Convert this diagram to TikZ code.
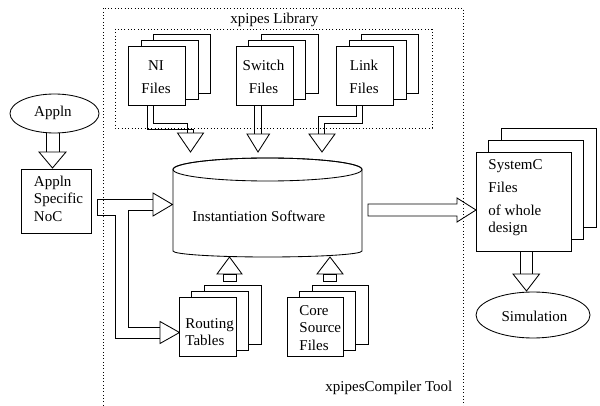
\documentclass[tikz,border=0pt]{standalone}
\usepackage{fontspec}
\setmainfont{Liberation Serif}
\usetikzlibrary{shapes.geometric}
\begin{document}
\begin{tikzpicture}[x=1pt,y=-1pt,line width=0.85pt,line join=miter,
  txt/.style={inner sep=0pt,font=\fontsize{15}{17}\selectfont},
  fbox/.style={draw,fill=white,inner sep=0pt,minimum width=57pt,minimum height=58.5pt},
  bigbox/.style={fbox,minimum width=95pt,minimum height=99pt},
  dots/.style={line width=0.9pt,dash pattern=on 0.9pt off 2.4pt},
  blk/.style={draw},
  shp/.style={draw,fill=white}]
\clip (0,0) rectangle (600,406);

% ---- dotted frames: compiler tool and library
\draw[dots] (103,412) -- (103,8) -- (463,8) -- (463,412);
\draw[dots] (115,29) rectangle (432,128);
\node[txt,anchor=base west] (libT) at (230,23.5) {xpipes Library};
\node[txt,anchor=base west] (toolT) at (325,391) {xpipesCompiler Tool};

% ---- block arrows
% Appln -> Appln Specific NoC
\draw[blk] (46,125) -- (46,152) (59,125) -- (59,152);
\draw[blk] (39,152) -- (52.5,168) -- (66,152) -- cycle;
% NI files -> instantiation software
\draw[blk] (147.3,105) -- (147.3,129) -- (193.5,129) -- (193.5,133)
           (153.3,105) -- (153.3,123) -- (187.5,123) -- (187.5,133);
\draw[blk] (177.5,133) -- (190.5,152) -- (203.5,133) -- cycle;
% Switch files -> instantiation software
\draw[blk] (254.5,105) -- (254.5,134) (261,105) -- (261,134);
\draw[blk] (247,134) -- (258,152) -- (269.5,134) -- cycle;
% Link files -> instantiation software
\draw[blk] (356,105) -- (356,116) -- (318,116) -- (318,134)
           (362,105) -- (362,123) -- (324,123) -- (324,134);
\draw[blk] (309,134) -- (322,152) -- (335,134) -- cycle;
% NoC -> instantiation software and routing tables
\draw[blk] (153,199) -- (97,199) -- (97,215) -- (115,215) -- (115,338) -- (160,338);
\draw[blk] (153,210) -- (128,210) -- (128,327) -- (160,327);
\draw[blk] (153,193) -- (172.5,204.5) -- (153,216) -- cycle;
\draw[blk] (160,321.5) -- (179.5,332.5) -- (160,343.5) -- cycle;
% routing tables / core sources -> instantiation software
\draw[blk] (217,274) -- (229.5,257) -- (242,274) -- cycle;
\draw[blk] (223,274) rectangle (236,281);
\draw[blk] (317,274) -- (330,257) -- (343,274) -- cycle;
\draw[blk] (323.5,274) rectangle (336.5,281);
% instantiation software -> SystemC files
\draw[blk] (368,204) -- (457,204) -- (457,198) -- (476,210) -- (457,222) -- (457,216) -- (368,216) -- cycle;
% SystemC files -> simulation
\draw[blk] (520,251) -- (520,274) (532.5,251) -- (532.5,274);
\draw[blk] (513,274) -- (526.5,291) -- (539.5,274) -- cycle;

% ---- application
\node[shp,ellipse,minimum width=89pt,minimum height=39pt,inner sep=0pt] (appln) at (54.5,113.5) {};
\node[txt,anchor=base] (applnT) at (53,117) {Appln};
\node[shp,minimum width=70pt,minimum height=64pt,inner sep=0pt] (noc) at (56,201) {};
\node[txt,anchor=base west] (nocA) at (33.5,186.5) {Appln};
\node[txt,anchor=base west] (nocB) at (33.5,204) {Specific};
\node[txt,anchor=base west] (nocC) at (33.5,221.5) {NoC};

% ---- library file stacks
\node[fbox,xshift=25pt,yshift=12pt] (niC) at (157,76) {};
\node[fbox,xshift=12.5pt,yshift=6pt] (niB) at (157,76) {};
\node[fbox] (ni) at (157,76) {};
\node[txt,anchor=base] (niT1) at (156,71) {NI};
\node[txt,anchor=base] (niT2) at (156,94) {Files};

\node[fbox,xshift=25pt,yshift=12pt] (swC) at (264.5,76) {};
\node[fbox,xshift=12.5pt,yshift=6pt] (swB) at (264.5,76) {};
\node[fbox] (sw) at (264.5,76) {};
\node[txt,anchor=base] (swT1) at (263.5,71) {Switch};
\node[txt,anchor=base] (swT2) at (263.5,94) {Files};

\node[fbox,xshift=25pt,yshift=12pt] (lkC) at (365,76) {};
\node[fbox,xshift=12.5pt,yshift=6pt] (lkB) at (365,76) {};
\node[fbox] (lk) at (365,76) {};
\node[txt,anchor=base] (lkT1) at (364,71) {Link};
\node[txt,anchor=base] (lkT2) at (364,94) {Files};

% ---- instantiation software (cylinder)
\draw[shp] (173,169.5) -- (173,251)
  arc[start angle=180,end angle=360,x radius=94.5pt,y radius=6pt]
  -- (362,169.5)
  arc[start angle=0,end angle=180,x radius=94.5pt,y radius=11.5pt] -- cycle;
\draw (267.5,169.5) ellipse[x radius=94.5pt,y radius=11.5pt];
\node[txt,anchor=base west] (inst) at (192,222) {Instantiation Software};

% ---- routing tables and core sources
\node[fbox,xshift=25pt,yshift=12pt] (rtC) at (207.5,327) {};
\node[fbox,xshift=12.5pt,yshift=6pt] (rtB) at (207.5,327) {};
\node[fbox] (rt) at (207.5,327) {};
\node[txt,anchor=base west] (rtT1) at (185,328) {Routing};
\node[txt,anchor=base west] (rtT2) at (185,345) {Tables};

\node[fbox,minimum width=56pt,xshift=25pt,yshift=12pt] (csC) at (315,327) {};
\node[fbox,minimum width=56pt,xshift=12.5pt,yshift=6pt] (csB) at (315,327) {};
\node[fbox,minimum width=56pt] (cs) at (315,327) {};
\node[txt,anchor=base west] (csT1) at (299,315) {Core};
\node[txt,anchor=base west] (csT2) at (299,332.5) {Source};
\node[txt,anchor=base west] (csT3) at (299,350) {Files};

% ---- generated SystemC files and simulation
\node[bigbox,xshift=25pt,yshift=24pt] (scC) at (523.5,201.5) {};
\node[bigbox,xshift=12.5pt,yshift=12pt] (scB) at (523.5,201.5) {};
\node[bigbox] (sc) at (523.5,201.5) {};
\node[txt,anchor=base west] (scT1) at (488,170) {SystemC};
\node[txt,anchor=base west] (scT2) at (488,193) {Files};
\node[txt,anchor=base west] (scT3) at (488,216) {of whole};
\node[txt,anchor=base west] (scT4) at (488,233) {design};

\node[shp,ellipse,minimum width=114pt,minimum height=46pt,inner sep=0pt] (sim) at (533,315) {};
\node[txt,anchor=base] (simT) at (534.5,321) {Simulation};
\end{tikzpicture}
\end{document}
